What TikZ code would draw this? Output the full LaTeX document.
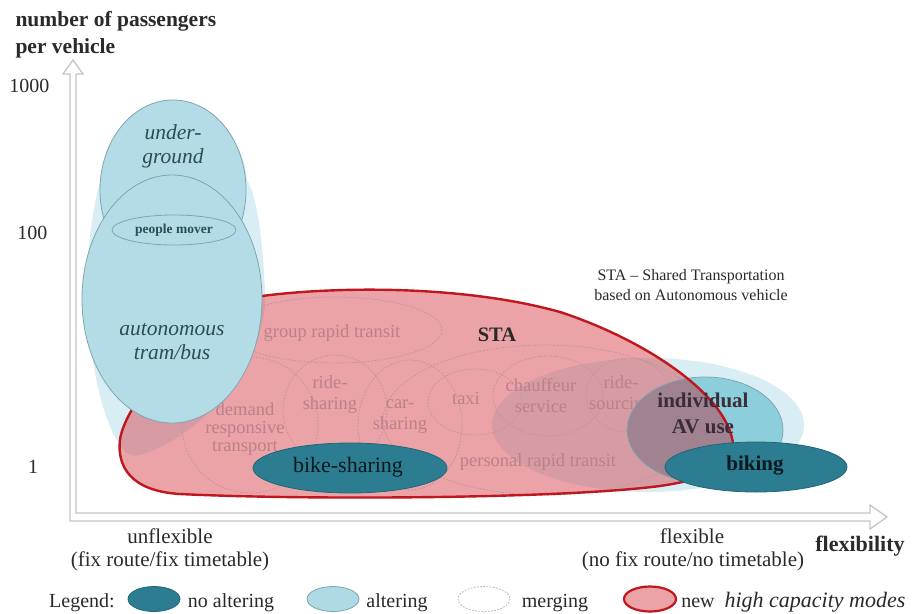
\documentclass[tikz,border=0pt]{standalone}
\usepackage{fontspec}
\setmainfont{Liberation Serif}
\definecolor{hullblue}{HTML}{D9EEF4}
\definecolor{lightblue}{HTML}{B4DCE6}
\definecolor{avblue}{HTML}{8DCEDC}
\definecolor{darkteal}{HTML}{2C7D91}
\definecolor{darkline}{HTML}{226676}
\definecolor{blueline}{HTML}{7FA6B0}
\definecolor{stapink}{HTML}{ECA3A8}
\definecolor{dusty}{HTML}{D79CA3}
\definecolor{overlap}{HTML}{A08291}
\definecolor{stared}{HTML}{C0161E}
\definecolor{mergeline}{HTML}{BC959D}
\definecolor{mergetext}{HTML}{B9818A}
\definecolor{hightext}{HTML}{2E4C57}
\definecolor{axisgrey}{HTML}{C6C6C6}
\definecolor{txt}{HTML}{2A2A2A}
\definecolor{avtext}{HTML}{3A2C38}
\tikzset{
  blueell/.style={fill=lightblue,draw=blueline,line width=0.8pt},
  tealell/.style={fill=darkteal,draw=darkline,line width=0.8pt},
  mergeell/.style={draw=mergeline,line width=0.8pt,dash pattern=on 1.6pt off 1.6pt},
  mergelabel/.style={text=mergetext,align=center,font=\fontsize{18.5}{19}\selectfont},
  hilabel/.style={text=hightext,align=center,font=\fontsize{21.5}{24}\selectfont\itshape},
  axislabel/.style={text=txt,anchor=base,font=\fontsize{21}{21}\selectfont},
  legtext/.style={text=txt,anchor=base,font=\fontsize{20}{20}\selectfont},
}
\begin{document}
\begin{tikzpicture}[x=1pt,y=-1pt]
\useasboundingbox[fill=white] (0,0) rectangle (917,613);

% axes (hollow arrows)
\draw[axisgrey,line width=1.3pt,line join=miter]
  (73,60) -- (83,74) -- (76,74) -- (76,513) -- (870,513) -- (870,505)
  -- (887,517) -- (870,529) -- (870,521) -- (70,521) -- (70,74) -- (63,74) -- cycle;

% pale hulls
\fill[hullblue] (102,175) .. controls (84,235) and (80,330) .. (104,410)
  .. controls (114,440) and (124,456) .. (136,456)
  .. controls (200,440) and (270,360) .. (265,290)
  .. controls (262,230) and (256,195) .. (247,180)
  .. controls (240,90) and (110,90) .. (102,175) -- cycle;
\fill[hullblue] (648,425) ellipse [x radius=156, y radius=67];

% individual AV use ellipse
\draw[fill=avblue,draw=blueline,line width=0.8pt] (705,430) ellipse [x radius=78, y radius=53];

% STA region
\path[save path=\stap] (262,296) .. controls (330,287) and (460,284) .. (560,312)
  .. controls (640,338) and (726,392) .. (733,443)
  .. controls (736,470) and (700,480) .. (660,486)
  .. controls (560,499) and (300,500) .. (180,494)
  .. controls (130,491) and (117,466) .. (120,440)
  .. controls (123,410) and (180,330) .. (262,296) -- cycle;
\fill[stapink,use path=\stap];
\begin{scope}
  \clip[use path=\stap];
  \fill[dusty] (648,425) ellipse [x radius=156, y radius=67];
  \fill[dusty] (102,175) .. controls (84,235) and (80,330) .. (104,410)
    .. controls (114,440) and (124,456) .. (136,456)
    .. controls (200,440) and (270,360) .. (265,290) -- (102,175) -- cycle;
\end{scope}

% merging ellipses
\draw[mergeell] (335,330) ellipse [x radius=107, y radius=33];
\draw[mergeell] (250,425) ellipse [x radius=68, y radius=68];
\draw[mergeell] (335,410) ellipse [x radius=52, y radius=55];
\draw[mergeell] (410,425) ellipse [x radius=52, y radius=65];
\draw[mergeell] (545,420) ellipse [x radius=162, y radius=75];
\draw[mergeell] (475,402) ellipse [x radius=47, y radius=33];
\draw[mergeell] (548,396) ellipse [x radius=55, y radius=40];
\draw[mergeell] (628,395) ellipse [x radius=42, y radius=37];

% merging labels
\node[mergelabel] (grt) at (332,333) {group rapid transit};
\node[mergelabel] (drt) at (245,429) {demand\\[-1pt]responsive\\[-1pt]transport};
\node[mergelabel] (rs) at (330,395) {ride-\\[2pt]sharing};
\node[mergelabel] (cs) at (400,417) {car-\\[2pt]sharing};
\node[mergelabel] (taxi) at (466,398) {taxi};
\node[mergelabel] (cf) at (541,396) {chauffeur\\[2pt]service};
\node[mergelabel] (rsrc) at (621,395) {ride-\\[2pt]sourcing};
\node[mergelabel] (prt) at (538,462) {personal rapid transit};

% overlap of AV use with STA
\begin{scope}
  \clip[use path=\stap];
  \draw[fill=overlap,draw=blueline,line width=0.8pt] (705,430) ellipse [x radius=78, y radius=53];
\end{scope}

% STA outline
\draw[stared,line width=2.4pt,use path=\stap];
\node[text=txt,font=\fontsize{20.5}{20}\selectfont\bfseries] (sta) at (497,335) {STA};

% high capacity column
\draw[blueell] (173,190) ellipse [x radius=73, y radius=90];
\draw[blueell] (172,299) ellipse [x radius=90, y radius=124];
\draw[blueell] (174,230) ellipse [x radius=62, y radius=15];
\node[hilabel] (ug) at (173,146) {under-\\ground};
\node[text=hightext,font=\fontsize{13.5}{14}\selectfont\bfseries] (pm) at (174,230) {people mover};
\node[hilabel] (atb) at (172,342) {autonomous\\tram/bus};

% no-altering modes
\draw[tealell] (350,468) ellipse [x radius=97, y radius=25];
\draw[tealell] (756,467) ellipse [x radius=91, y radius=25];
\node[text=black!80!darkteal,font=\fontsize{22}{22}\selectfont] (bs) at (348,467) {bike-sharing};
\node[text=black!80!darkteal,font=\fontsize{21}{21}\selectfont\bfseries] (bk) at (755,466) {biking};
\node[text=avtext,align=center,font=\fontsize{21}{26}\selectfont\bfseries] (av) at (703,413) {individual\\AV use};

% annotation
\node[text=txt,anchor=base,font=\fontsize{16}{16}\selectfont] (ann1) at (691,280) {STA -- Shared Transportation};
\node[text=txt,anchor=base,font=\fontsize{16}{16}\selectfont] (ann2) at (691,300) {based on Autonomous vehicle};

% axis titles and ticks
\node[anchor=base west,text=txt,font=\fontsize{21.5}{22}\selectfont\bfseries] (yt1) at (12,27) {number of passengers};
\node[anchor=base west,text=txt,font=\fontsize{21.5}{22}\selectfont\bfseries] (yt2) at (12,53) {per vehicle};
\node[anchor=base east,text=txt,font=\fontsize{20}{20}\selectfont] (t1000) at (53,92) {1000};
\node[anchor=base east,text=txt,font=\fontsize{20}{20}\selectfont] (t100) at (51,239) {100};
\node[anchor=base,text=txt,font=\fontsize{20}{20}\selectfont] (t1) at (33,473) {1};
\node[axislabel] (unf) at (170,543) {unflexible};
\node[axislabel] (unf2) at (170,566) {(fix route/fix timetable)};
\node[axislabel] (flx) at (692,543) {flexible};
\node[axislabel] (flx2) at (693,566) {(no fix route/no timetable)};
\node[anchor=base,text=txt,font=\fontsize{22}{22}\selectfont\bfseries] (flexy) at (860,551) {flexibility};

% legend
\node[legtext] (leg) at (82,607) {Legend:};
\draw[tealell] (154,599) ellipse [x radius=26, y radius=12.5];
\node[legtext] (l1) at (231,607) {no altering};
\draw[fill=lightblue!85!avblue,draw=blueline,line width=0.8pt] (333,599) ellipse [x radius=26, y radius=12.5];
\node[legtext] (l2) at (397,607) {altering};
\draw[draw=black!30,line width=0.8pt,dash pattern=on 1.6pt off 1.6pt] (484,599) ellipse [x radius=26, y radius=12.5];
\node[legtext] (l3) at (555,607) {merging};
\draw[fill=stapink,draw=stared,line width=2.2pt] (650,599) ellipse [x radius=26, y radius=12.5];
\node[legtext] (l4) at (698,607) {new};
\node[legtext,anchor=base west,font=\fontsize{22}{20}\selectfont\itshape] (l5) at (721,607) {high capacity modes};
\end{tikzpicture}
\end{document}
